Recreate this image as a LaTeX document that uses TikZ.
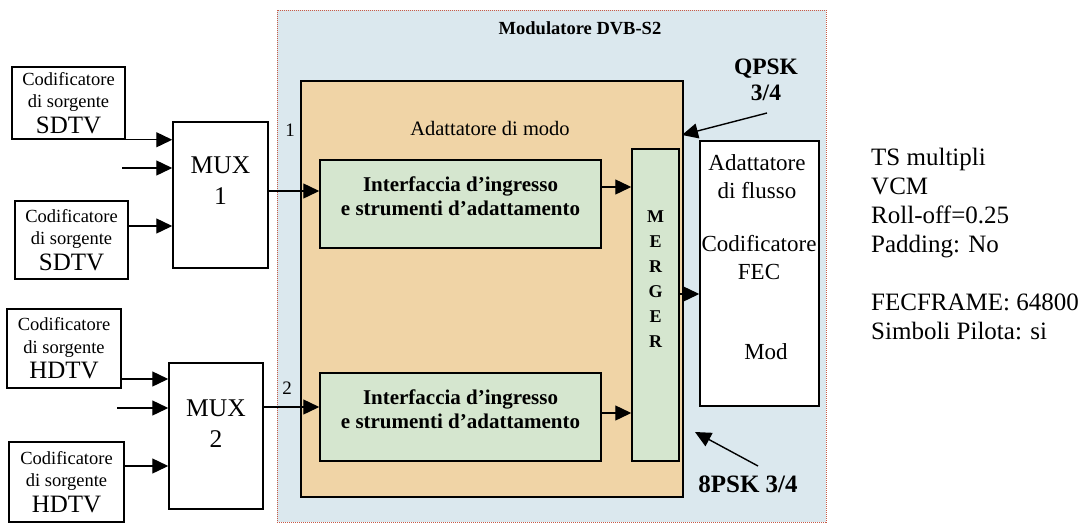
\documentclass[tikz,border=0pt]{standalone}
\usepackage{fontspec}
\setmainfont{Liberation Serif}
\usetikzlibrary{arrows.meta}
\definecolor{modblue}{RGB}{219,232,238}
\definecolor{modorange}{RGB}{240,212,166}
\definecolor{modgreen}{RGB}{213,230,207}
\definecolor{dotred}{RGB}{200,90,70}
\tikzset{
  box/.style={draw=black, line width=1.5pt, inner sep=0pt, align=center},
  arr/.style={-{Triangle[length=16pt,width=15pt]}, line width=1.4pt},
  enc/.style={box, fill=white, font=\fontsize{18.5}{22.5}\selectfont},
  txt/.style={inner sep=0pt, align=center},
}
\begin{document}
\begin{tikzpicture}[x=1pt,y=-1pt]
\useasboundingbox (0,0) rectangle (1080,525);
% modulator frame
\node[draw=dotred, densely dotted, line width=1pt, fill=modblue, minimum width=549pt, minimum height=512pt, inner sep=0pt] (modf) at (551.5,266) {};
\node[txt, font=\bfseries\fontsize{18.5}{22}\selectfont] (modt) at (580,28) {Modulatore DVB-S2};
% orange mode adapter
\node[box, fill=modorange, minimum width=382pt, minimum height=416pt] (mode) at (492,289) {};
\node[txt, font=\fontsize{20.5}{24}\selectfont] (modet) at (490,128) {Adattatore di modo};
% interfaces
\node[box, fill=modgreen, minimum width=281pt, minimum height=88pt] (if1) at (460.5,204) {};
\node[txt, font=\bfseries\fontsize{21}{24}\selectfont] (if1t) at (460.5,196) {Interfaccia d’ingresso\\e strumenti d’adattamento};
\node[box, fill=modgreen, minimum width=281pt, minimum height=88pt] (if2) at (460.5,417) {};
\node[txt, font=\bfseries\fontsize{21}{24}\selectfont] (if2t) at (460.5,409) {Interfaccia d’ingresso\\e strumenti d’adattamento};
% merger
\node[box, fill=modgreen, minimum width=47pt, minimum height=312pt] (merg) at (655.5,305) {};
\node[txt, font=\bfseries\fontsize{18}{25}\selectfont] (mergt) at (655.5,279) {M\\E\\R\\G\\E\\R};
% stream adapter
\node[box, fill=white, minimum width=119pt, minimum height=265pt] (flux) at (759.5,273.5) {};
\node[txt, font=\fontsize{23}{28}\selectfont] (fluxa) at (757,177) {Adattatore\\di flusso};
\node[txt, font=\fontsize{23}{28}\selectfont] (fluxb) at (759,258) {Codificatore\\FEC};
\node[txt, font=\fontsize{23}{28}\selectfont] (fluxc) at (766,352) {Mod};
% encoders
\node[enc, minimum width=113pt, minimum height=72pt] (enc1) at (68.5,103) {Codificatore\\di sorgente\\[3pt]\fontsize{25}{27}\selectfont SDTV};
\node[enc, minimum width=113pt, minimum height=78pt] (enc2) at (71.5,240) {Codificatore\\di sorgente\\[3pt]\fontsize{25}{27}\selectfont SDTV};
\node[enc, minimum width=114pt, minimum height=79pt] (enc3) at (64,348.5) {Codificatore\\di sorgente\\[3pt]\fontsize{25}{27}\selectfont HDTV};
\node[enc, minimum width=115pt, minimum height=80pt] (enc4) at (66.5,482) {Codificatore\\di sorgente\\[3pt]\fontsize{25}{27}\selectfont HDTV};
% muxes
\node[box, fill=white, minimum width=95pt, minimum height=146pt] (mux1) at (220.5,195) {};
\node[txt, font=\fontsize{25.5}{31}\selectfont] (mux1t) at (220.5,181) {MUX\\1};
\node[box, fill=white, minimum width=94pt, minimum height=146pt] (mux2) at (216,436) {};
\node[txt, font=\fontsize{25.5}{31}\selectfont] (mux2t) at (216,424) {MUX\\2};
% free inputs
\coordinate (in1) at (122,168);
\coordinate (in2) at (117,408);
% arrows encoders -> mux
\draw[arr] (enc1.south east) -- (mux1.west |- enc1.south east);
\draw[arr] (in1) -- (mux1.west |- in1);
\draw[arr] (enc2.east |- 0,226) -- (mux1.west |- 0,226);
\draw[arr] (enc3.east |- 0,379) -- (mux2.west |- 0,379);
\draw[arr] (in2) -- (mux2.west |- in2);
\draw[arr] (enc4.east |- 0,466) -- (mux2.west |- 0,466);
% mux -> interfaces
\draw[arr] (mux1.east |- 0,191) -- (if1.west |- 0,191);
\draw[arr] (mux2.east |- 0,407) -- (if2.west |- 0,407);
\node[txt, font=\fontsize{19}{20}\selectfont] (lab1) at (290,130) {1};
\node[txt, font=\fontsize{19}{20}\selectfont] (lab2) at (287,388) {2};
% interfaces -> merger
\draw[arr] (if1.east |- 0,187) -- (merg.west |- 0,187);
\draw[arr] (if2.east |- 0,413) -- (merg.west |- 0,413);
\draw[arr] (merg.east |- 0,294) -- (flux.west |- 0,294);
% modulation labels
\node[txt, font=\bfseries\fontsize{23.5}{26}\selectfont] (qpsk) at (766,80) {QPSK\\3/4};
\coordinate (qtip) at (682,135);
\coordinate (qstart) at (767,113);
\draw[arr] (qstart) -- (qtip);
\node[txt, font=\bfseries\fontsize{25}{28}\selectfont] (epsk) at (748,484) {8PSK 3/4};
\coordinate (etip) at (695,432);
\coordinate (estart) at (758,466);
\draw[arr] (estart) -- (etip);
% right text
\node[anchor=north west, inner sep=0pt, align=left, font=\fontsize{25}{29}\selectfont] (params) at (871,148) {TS multipli\\VCM\\Roll-off=0.25\\Padding: No\\[29pt]FECFRAME: 64800\\Simboli Pilota: si};
\end{tikzpicture}
\end{document}
